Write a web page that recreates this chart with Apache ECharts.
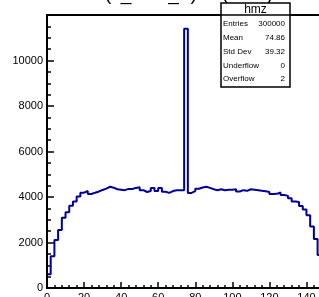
<!DOCTYPE html>
<html>
<head>
<meta charset="utf-8">
<script src="https://cdn.jsdelivr.net/npm/echarts@6/dist/echarts.min.js"></script>
<style>
  html, body { margin: 0; padding: 0; background: #fff; }
  #main { width: 319px; height: 297px; }
</style>
</head>
<body>
<div id="main"></div>
<script>
// histogram hmz: 75 bins, 0..150
var binWidth = 2;
var counts = [
  600, 1400, 2110, 2550, 3090, 3330, 3620, 3800, 4020, 4190,
  4265, 4130, 4190, 4240, 4310, 4370, 4450, 4410, 4340, 4320,
  4300, 4355, 4355, 4400, 4425, 4300, 4220, 4260, 4400, 4260,
  4400, 4230, 4180, 4260, 4300, 4300, 4300, 11400, 4180, 4260,
  4360, 4420, 4450, 4400, 4340, 4300, 4340, 4300, 4320, 4320,
  4340, 4240, 4300, 4270, 4340, 4320, 4300, 4270, 4250, 4220,
  4130, 4140, 4200, 4090, 4050, 3950, 3800, 3780, 3600, 3450,
  3200, 2700, 2150, 1450, 620
];
var statNames = ['Entries', 'Mean', 'Std Dev', 'Underflow', 'Overflow'];
var statValues = ['300000', '74.86', '39.32', '0', '2'];
var histName = 'hmz';
var titleText = '(x_reco_Z) in (GeV)';

var chart = echarts.init(document.getElementById('main'));

// step points at bin low edges, plus closing point at the upper edge
var pts = [];
for (var i = 0; i < counts.length; i++) {
  pts.push([i * binWidth, counts[i]]);
}
pts.push([counts.length * binWidth, counts[counts.length - 1]]);

var font = 'Liberation Sans, Arial, sans-serif';
var stats = [];
var boxX = 221, boxY = 3, boxW = 69, boxH = 84;
stats.push({ type: 'rect', shape: { x: boxX, y: boxY, width: boxW, height: boxH },
  style: { fill: '#fff', stroke: '#000', lineWidth: 1.5 }, z: 100 });
stats.push({ type: 'line', shape: { x1: boxX, y1: 15, x2: boxX + boxW, y2: 15 },
  style: { stroke: '#000', lineWidth: 1.5 }, z: 101 });
stats.push({ type: 'text', x: boxX + boxW / 2, y: 10, z: 101,
  style: { text: histName, font: '12px ' + font, fill: '#000', align: 'center', verticalAlign: 'middle' } });
for (var j = 0; j < statNames.length; j++) {
  var yy = 24 + j * 13.8;
  stats.push({ type: 'text', x: 223, y: yy, z: 101,
    style: { text: statNames[j], font: '8px ' + font, fill: '#000', align: 'left', verticalAlign: 'middle' } });
  stats.push({ type: 'text', x: 285, y: yy, z: 101,
    style: { text: statValues[j], font: '8px ' + font, fill: '#000', align: 'right', verticalAlign: 'middle' } });
}
stats.push({ type: 'text', x: 105, y: 4, z: 50,
  style: { text: titleText, font: '19px ' + font, fill: '#000', align: 'left', verticalAlign: 'bottom' } });

var option = {
  animation: false,
  backgroundColor: '#fff',
  grid: { left: 47, top: 15, bottom: 9, right: -6, show: true, borderColor: '#000', borderWidth: 2,
    containLabel: false, outerBoundsMode: 'none' },
  xAxis: {
    type: 'value', min: 0, max: 150, interval: 20,
    axisLine: { show: true, lineStyle: { color: '#000', width: 2 } },
    axisTick: { show: true, inside: true, length: 6, lineStyle: { color: '#000', width: 1.5 } },
    minorTick: { show: true, splitNumber: 5, length: 3, lineStyle: { color: '#000', width: 1.5 } },
    axisLabel: { color: '#000', fontSize: 11, fontFamily: font, margin: 4, showMaxLabel: false,
      formatter: function (v) { return String(v); } },
    splitLine: { show: false }
  },
  yAxis: {
    type: 'value', min: 0, max: 12000, interval: 2000,
    axisLine: { show: true, lineStyle: { color: '#000', width: 2 } },
    axisTick: { show: true, inside: true, length: 7, lineStyle: { color: '#000', width: 1.5 } },
    minorTick: { show: true, splitNumber: 4, length: 4, lineStyle: { color: '#000', width: 1.5 } },
    axisLabel: { color: '#000', fontSize: 11, fontFamily: font, margin: 4, showMaxLabel: false,
      formatter: function (v) { return String(v); } },
    splitLine: { show: false }
  },
  series: [{
    type: 'line', step: 'end', symbol: 'none',
    lineStyle: { color: '#000099', width: 2 },
    data: pts
  }],
  graphic: stats
};
chart.setOption(option);
</script>
</body>
</html>
